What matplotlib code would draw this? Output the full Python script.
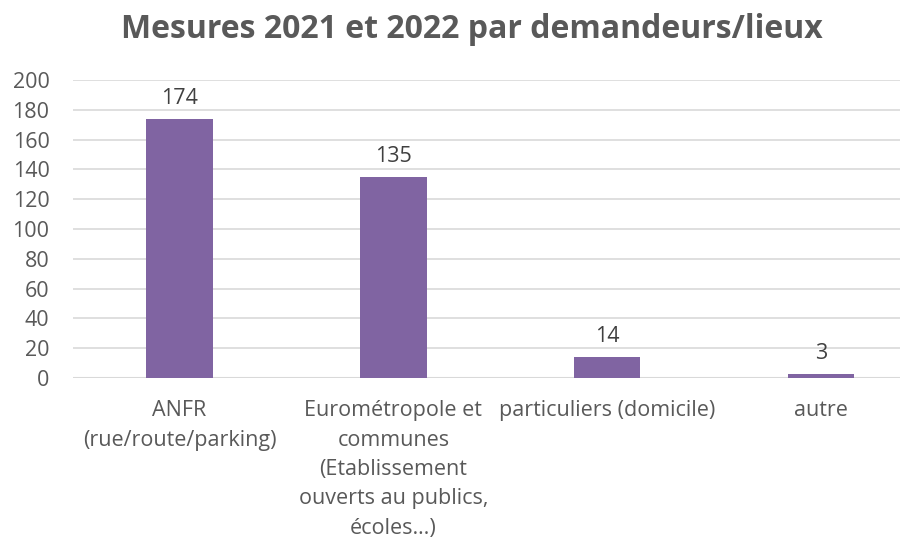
import matplotlib.pyplot as plt

categories = [
    "ANFR\n(rue/route/parking)",
    "Eurométropole et\ncommunes\n(Etablissement\nouverts au publics,\nécoles…)",
    "particuliers (domicile)",
    "autre",
]
valeurs = [174, 135, 14, 3]
y_ticks = [0, 20, 40, 60, 80, 100, 120, 140, 160, 180, 200]

plt.rcParams['font.family'] = ['Open Sans', 'DejaVu Sans']
couleur_texte = '#595959'

fig = plt.figure(figsize=(9.13, 5.37), dpi=100)
ax = fig.add_axes([0.08, 0.296, 0.906, 0.555])

x = range(len(categories))
ax.bar(x, valeurs, width=0.31, color='#8064A2', zorder=3)

for i, v in zip(x, valeurs):
    ax.text(i, v + 6.5, str(v), ha='center', va='bottom', fontsize=15.5, color='#404040')

ax.set_xlim(-0.498, 3.37)
ax.set_ylim(0, 200)
ax.set_yticks(y_ticks)
ax.set_xticks(list(x))
ax.set_xticklabels(categories, fontsize=15.5, color=couleur_texte, linespacing=1.52)
ax.tick_params(axis='y', labelsize=15.5, labelcolor=couleur_texte, length=0, pad=17)
ax.tick_params(axis='x', length=0, pad=16)

ax.grid(axis='y', color='#D9D9D9', linewidth=1.2, zorder=0)
for s in ax.spines.values():
    s.set_visible(False)
ax.axhline(0, color='#D9D9D9', linewidth=1.5, zorder=2)

fig.text(472 / 913, 1 - 29 / 537, "Mesures 2021 et 2022 par demandeurs/lieux",
         ha='center', va='center', fontsize=23, fontweight='bold', color=couleur_texte)

plt.savefig('out.png', dpi=100)
